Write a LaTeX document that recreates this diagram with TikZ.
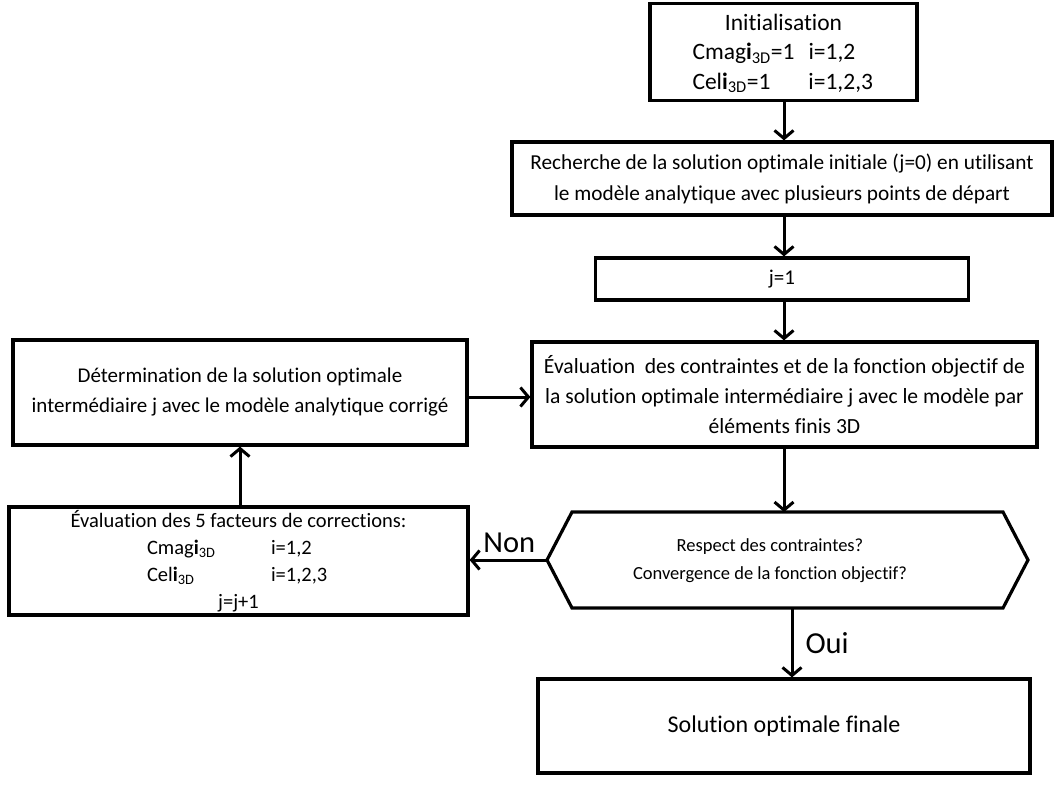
\documentclass[tikz,border=0pt]{standalone}
\usepackage{fontspec}
\setmainfont{Carlito}[Ligatures=NoCommon]
\usetikzlibrary{arrows.meta}
\begin{document}
\begin{tikzpicture}[x=1pt,y=-1pt,
  frame/.style={draw,line width=3.2pt,rectangle,inner sep=0pt},
  box/.style={frame,align=center,font=\fontsize{21}{30}\selectfont},
  txt/.style={align=center,inner sep=0pt},
  flow/.style={line width=3pt,-{Straight Barb[length=8pt,width=19pt,line width=3pt]}},
  lbl/.style={font=\fontsize{30.5}{32}\selectfont,inner sep=0pt}]
\useasboundingbox (0,0) rectangle (1054,786);
% factor name with bold index and subscript
\newcommand{\sub}[1]{\textbf{i}\textsubscript{#1}}
% two left-aligned columns of fixed widths
\newcommand{\twocol}[4]{\makebox[#1][l]{#2}\makebox[#3][l]{#4}}
% main column
\node[frame,minimum width=267,minimum height=97] (init) at (783.5,52) {};
\node[txt,font=\fontsize{23.5}{29.5}\selectfont] (inittxt) at (783.5,53.5)
  {Initialisation\\
   \twocol{116pt}{Cmag\sub{3D}=1}{66pt}{i=1,2}\\
   \twocol{116pt}{Cel\sub{3D}=1}{66pt}{i=1,2,3}};
\node[box,minimum width=540,minimum height=73,font=\fontsize{21.3}{31}\selectfont]
  (rech) at (782,178.5)
  {Recherche de la solution optimale initiale (j=0) en utilisant\\
   le modèle analytique avec plusieurs points de départ};
\node[box,minimum width=373,minimum height=42] (j1) at (782,279) {j=1};
\node[box,minimum width=505,minimum height=105,font=\fontsize{21.6}{30}\selectfont]
  (eval) at (784.5,394.5)
  {Évaluation\ \ des contraintes et de la fonction objectif de\\
   la solution optimale intermédiaire j avec le modèle par\\
   éléments finis 3D};
% decision hexagon
\coordinate (hw) at (547,560);
\coordinate (he) at (1028,560);
\coordinate (hn) at (784,512);
\coordinate (hs) at (792,608);
\draw[line width=3.2pt,line join=miter] (hw) -- (572,512) -- (1003,512) -- (he)
  -- (1003,608) -- (572,608) -- cycle;
\node[txt,font=\fontsize{18.5}{28}\selectfont] (test) at (770,561)
  {Respect des contraintes?\\Convergence de la fonction objectif?};
\node[box,minimum width=492,minimum height=94,font=\fontsize{24}{30}\selectfont]
  (fin) at (784,726) {Solution optimale finale};
% correction loop
\node[box,minimum width=454,minimum height=105] (det) at (240,392.5)
  {Détermination de la solution optimale\\
   intermédiaire j avec le modèle analytique corrigé};
\node[frame,minimum width=459,minimum height=108] (fact) at (238.5,561) {};
\node[txt,font=\fontsize{20.5}{27}\selectfont] (facttxt) at (238.5,561)
  {Évaluation des 5 facteurs de corrections:\\
   \twocol{124pt}{Cmag\sub{3D}}{59pt}{i=1,2}\\
   \twocol{124pt}{Cel\sub{3D}}{59pt}{i=1,2,3}\\
   j=j+1};
% connectors
\draw[flow] (init.south -| 784,0) -- (rech.north -| 784,0);
\draw[flow] (rech.south -| 784,0) -- (j1.north -| 784,0);
\draw[flow] (j1.south -| 784,0) -- (eval.north -| 784,0);
\draw[flow] (eval.south -| 784,0) -- (hn);
\draw[flow] (hs) -- (fin.north -| hs)
  node[lbl,midway,anchor=west,xshift=12pt] {Oui};
\draw[flow] (hw) -- (fact.east |- hw)
  node[lbl,midway,anchor=south,yshift=6pt,xshift=1pt] {Non};
\draw[flow] (fact.north -| 240,0) -- (det.south -| 240,0);
\draw[flow] (det.east |- 0,397) -- (eval.west |- 0,397);
\end{tikzpicture}
\end{document}
